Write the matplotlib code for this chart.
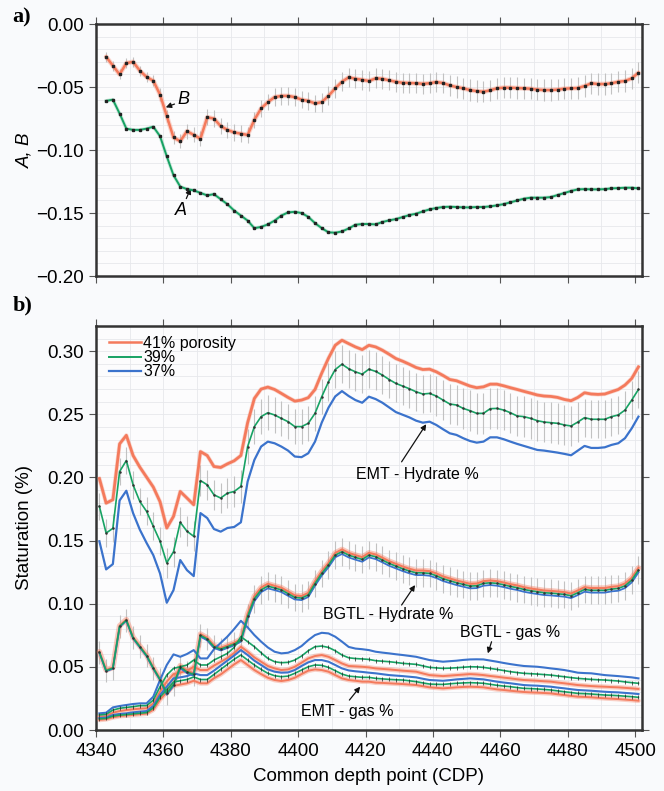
import numpy as np
import matplotlib.pyplot as plt
from matplotlib.ticker import MultipleLocator
from matplotlib.lines import Line2D

plt.rcParams['font.family'] = ['Liberation Sans', 'DejaVu Sans']

ORANGE = '#f47a5c'
GREEN = '#17a263'
BLUE = '#3b73cc'
BARS = '#c2c2c2'

# ---- panel a: A and B coefficients ----
cdp_top = np.arange(4343, 4502, 2)

coef_B = [-0.026, -0.033, -0.040, -0.031, -0.030, -0.037, -0.042, -0.045, -0.056, -0.073,
          -0.090, -0.093, -0.085, -0.088, -0.091, -0.074, -0.075, -0.081, -0.084, -0.086,
          -0.087, -0.088, -0.076, -0.067, -0.062, -0.058, -0.057, -0.057, -0.058, -0.060,
          -0.061, -0.063, -0.062, -0.057, -0.051, -0.0458, -0.0423, -0.0434, -0.0442, -0.0452,
          -0.0431, -0.0434, -0.0447, -0.0458, -0.0466, -0.0468, -0.047, -0.0474, -0.047, -0.046,
          -0.0468, -0.0487, -0.050, -0.051, -0.0524, -0.0532, -0.0537, -0.0526, -0.051, -0.0505,
          -0.0505, -0.0508, -0.051, -0.0513, -0.052, -0.0524, -0.0524, -0.052, -0.0513, -0.051,
          -0.0508, -0.0492, -0.047, -0.0476, -0.0476, -0.047, -0.0458, -0.0452, -0.0431, -0.0386]

coef_B_err = [0.004, 0.004, 0.004, 0.004, 0.004, 0.004, 0.004, 0.0045, 0.005, 0.005,
              0.0055, 0.0055, 0.006, 0.006, 0.006, 0.0065, 0.0065, 0.0065, 0.0065, 0.0065,
              0.0065, 0.0065, 0.0065, 0.0065, 0.0065, 0.007, 0.007, 0.007, 0.007, 0.007,
              0.007, 0.007, 0.0075, 0.0075, 0.0075, 0.0075, 0.0075, 0.0075, 0.008, 0.008,
              0.008, 0.008, 0.008, 0.008, 0.008, 0.008, 0.008, 0.008, 0.008, 0.008,
              0.008, 0.0085, 0.0085, 0.0085, 0.0085, 0.0085, 0.0085, 0.0085, 0.0085, 0.0085,
              0.0085, 0.0085, 0.0085, 0.0085, 0.0085, 0.0085, 0.0085, 0.0085, 0.0085, 0.0085,
              0.0085, 0.0085, 0.0085, 0.0085, 0.0085, 0.0085, 0.0085, 0.0085, 0.0085, 0.0085]

coef_A = [-0.061, -0.060, -0.071, -0.083, -0.084, -0.084, -0.083, -0.0815, -0.089, -0.105,
          -0.120, -0.129, -0.131, -0.132, -0.134, -0.136, -0.135, -0.139, -0.143, -0.148,
          -0.152, -0.156, -0.162, -0.161, -0.159, -0.156, -0.152, -0.1495, -0.149, -0.150,
          -0.153, -0.158, -0.162, -0.1653, -0.1656, -0.1646, -0.1622, -0.1593, -0.1587, -0.1587,
          -0.159, -0.1571, -0.1558, -0.1548, -0.1532, -0.1516, -0.1505, -0.1487, -0.1471, -0.146,
          -0.1452, -0.145, -0.1452, -0.1455, -0.1455, -0.1452, -0.1452, -0.1447, -0.1439, -0.1429,
          -0.1415, -0.140, -0.1386, -0.1378, -0.1378, -0.1378, -0.1373, -0.1357, -0.1341, -0.1325,
          -0.1312, -0.131, -0.1312, -0.1312, -0.131, -0.1304, -0.1302, -0.1299, -0.1299, -0.1304]

# ---- panel b: saturations ----
cdp = np.arange(4341, 4502, 2)

emt_hyd_41 = [0.1992, 0.1797, 0.1824, 0.2266, 0.2334, 0.2174, 0.2082, 0.2003, 0.1924, 0.1808,
              0.160, 0.1692, 0.1889, 0.1837, 0.1784, 0.2205, 0.2174, 0.2087, 0.2079, 0.2108,
              0.2132, 0.2174, 0.2434, 0.2626, 0.270, 0.2716, 0.2697, 0.2666, 0.2634, 0.2605,
              0.2613, 0.2632, 0.2697, 0.2827, 0.2945, 0.3047, 0.3087, 0.306, 0.3034, 0.3013,
              0.3047, 0.3034, 0.3008, 0.2976, 0.2942, 0.2921, 0.2897, 0.2871, 0.2855, 0.2858,
              0.2837, 0.2808, 0.2776, 0.2766, 0.2745, 0.2724, 0.2711, 0.2718, 0.2739, 0.2739,
              0.2726, 0.2711, 0.2697, 0.2682, 0.2668, 0.2653, 0.2645, 0.2642, 0.2634, 0.2618,
              0.2608, 0.2634, 0.2671, 0.2661, 0.2658, 0.2661, 0.2679, 0.2697, 0.2732, 0.2784,
              0.2876]

emt_hyd_39 = [0.1771, 0.156, 0.1597, 0.2047, 0.2134, 0.1942, 0.181, 0.1732, 0.1613, 0.1495,
              0.1324, 0.1412, 0.1645, 0.1574, 0.1534, 0.1976, 0.1942, 0.1863, 0.1837, 0.1876,
              0.1889, 0.1929, 0.2245, 0.2403, 0.2482, 0.2513, 0.2495, 0.2468, 0.2442, 0.2403,
              0.2403, 0.2429, 0.2508, 0.264, 0.2758, 0.2855, 0.2897, 0.2861, 0.2837, 0.2818,
              0.2858, 0.284, 0.2811, 0.2776, 0.2745, 0.2724, 0.2703, 0.2679, 0.2661, 0.2666,
              0.2645, 0.2613, 0.2582, 0.2574, 0.2547, 0.2529, 0.2508, 0.2508, 0.2545, 0.2547,
              0.2534, 0.2513, 0.2487, 0.2482, 0.2468, 0.245, 0.2439, 0.2434, 0.2429, 0.2416,
              0.2408, 0.2439, 0.2474, 0.2461, 0.2461, 0.2461, 0.2482, 0.2495, 0.2534, 0.2613,
              0.2697]

emt_hyd_39_err = [0.011, 0.011, 0.011, 0.011, 0.011, 0.011, 0.011, 0.011, 0.011, 0.011,
                  0.012, 0.012, 0.012, 0.012, 0.012, 0.012, 0.012, 0.012, 0.012, 0.012,
                  0.012, 0.013, 0.014, 0.014, 0.014, 0.014, 0.014, 0.014, 0.014, 0.014,
                  0.014, 0.014, 0.014, 0.014, 0.015, 0.015, 0.015, 0.015, 0.015, 0.015,
                  0.015, 0.015, 0.015, 0.015, 0.015, 0.015, 0.015, 0.015, 0.015, 0.015,
                  0.016, 0.016, 0.016, 0.016, 0.016, 0.016, 0.016, 0.016, 0.016, 0.016,
                  0.016, 0.016, 0.016, 0.016, 0.016, 0.016, 0.016, 0.016, 0.016, 0.016,
                  0.016, 0.016, 0.015, 0.015, 0.015, 0.015, 0.015, 0.015, 0.015, 0.015,
                  0.015]

emt_hyd_37 = [0.1495, 0.1272, 0.1314, 0.1818, 0.1895, 0.1718, 0.1587, 0.1482, 0.1385, 0.124,
              0.1008, 0.1108, 0.1346, 0.1266, 0.1219, 0.1718, 0.1679, 0.1592, 0.1571, 0.160,
              0.1608, 0.1645, 0.1968, 0.2139, 0.2245, 0.2284, 0.2271, 0.2245, 0.2213, 0.2166,
              0.2161, 0.2192, 0.2284, 0.2435, 0.2553, 0.2642, 0.2684, 0.2645, 0.2613, 0.2592,
              0.264, 0.2621, 0.2592, 0.2555, 0.2518, 0.2497, 0.2476, 0.245, 0.2434, 0.2442,
              0.2416, 0.2382, 0.235, 0.2337, 0.2311, 0.2289, 0.2276, 0.2284, 0.2318, 0.2318,
              0.2303, 0.2284, 0.2266, 0.225, 0.2234, 0.2218, 0.2213, 0.2205, 0.2197, 0.2187,
              0.2176, 0.2213, 0.225, 0.2234, 0.2234, 0.2239, 0.2258, 0.2271, 0.2311, 0.2389,
              0.2482]

bgtl_hyd_41 = [0.062, 0.0475, 0.0495, 0.0825, 0.0875, 0.0735, 0.0665, 0.0595, 0.0495, 0.0405,
               0.0295, 0.037, 0.051, 0.047, 0.045, 0.076, 0.073, 0.067, 0.065, 0.067,
               0.069, 0.072, 0.092, 0.106, 0.1128, 0.1158, 0.1142, 0.1127, 0.1097, 0.1066,
               0.1061, 0.1086, 0.1177, 0.1257, 0.1323, 0.1402, 0.143, 0.1403, 0.1385, 0.1369,
               0.1403, 0.139, 0.1364, 0.1337, 0.1316, 0.1295, 0.1277, 0.1263, 0.1263, 0.1258,
               0.124, 0.1216, 0.12, 0.1184, 0.1171, 0.1158, 0.116, 0.1179, 0.1184, 0.1179,
               0.1168, 0.1155, 0.1145, 0.1131, 0.1121, 0.1113, 0.1105, 0.1102, 0.1097, 0.1092,
               0.1081, 0.1105, 0.1131, 0.1124, 0.1124, 0.1124, 0.1134, 0.1139, 0.116, 0.1205,
               0.1284]

bgtl_hyd_39 = [0.0615, 0.047, 0.049, 0.082, 0.087, 0.073, 0.066, 0.059, 0.049, 0.040,
               0.029, 0.036, 0.050, 0.046, 0.044, 0.075, 0.072, 0.066, 0.064, 0.066,
               0.068, 0.071, 0.090, 0.104, 0.111, 0.114, 0.1125, 0.111, 0.108, 0.105,
               0.1045, 0.107, 0.116, 0.124, 0.1306, 0.1385, 0.1412, 0.1385, 0.1367, 0.1351,
               0.1385, 0.1372, 0.1346, 0.1319, 0.1298, 0.1277, 0.1259, 0.1245, 0.1245, 0.124,
               0.1222, 0.1198, 0.1182, 0.1166, 0.1153, 0.114, 0.1142, 0.1161, 0.1166, 0.1161,
               0.115, 0.1137, 0.1127, 0.1113, 0.1103, 0.1095, 0.1087, 0.1084, 0.1079, 0.1074,
               0.1063, 0.1087, 0.1113, 0.1106, 0.1106, 0.1106, 0.1116, 0.1121, 0.1142, 0.1187,
               0.1266]

bgtl_hyd_39_err = [0.009, 0.009, 0.009, 0.009, 0.009, 0.009, 0.009, 0.009, 0.009, 0.009,
                   0.009, 0.009, 0.009, 0.009, 0.009, 0.009, 0.009, 0.009, 0.009, 0.009,
                   0.010, 0.010, 0.010, 0.011, 0.011, 0.011, 0.011, 0.011, 0.011, 0.011,
                   0.011, 0.011, 0.011, 0.011, 0.011, 0.011, 0.011, 0.011, 0.011, 0.011,
                   0.011, 0.011, 0.011, 0.011, 0.011, 0.011, 0.011, 0.011, 0.011, 0.011,
                   0.011, 0.011, 0.011, 0.011, 0.011, 0.011, 0.011, 0.011, 0.011, 0.011,
                   0.011, 0.011, 0.011, 0.011, 0.011, 0.011, 0.011, 0.011, 0.011, 0.011,
                   0.011, 0.011, 0.011, 0.011, 0.011, 0.011, 0.011, 0.011, 0.011, 0.011,
                   0.011]

bgtl_hyd_37 = [0.061, 0.0465, 0.0485, 0.0815, 0.0865, 0.0725, 0.0655, 0.0585, 0.0485, 0.0395,
               0.028, 0.035, 0.049, 0.045, 0.043, 0.074, 0.071, 0.065, 0.063, 0.065,
               0.067, 0.070, 0.088, 0.102, 0.1092, 0.1122, 0.1108, 0.1093, 0.1063, 0.1034,
               0.1029, 0.1054, 0.1143, 0.1223, 0.1289, 0.1368, 0.1394, 0.1367, 0.1349, 0.1333,
               0.1367, 0.1354, 0.1328, 0.1301, 0.128, 0.1259, 0.1241, 0.1227, 0.1227, 0.1222,
               0.1204, 0.118, 0.1164, 0.1148, 0.1135, 0.1122, 0.1124, 0.1143, 0.1148, 0.1143,
               0.1132, 0.1119, 0.1109, 0.1095, 0.1085, 0.1077, 0.1069, 0.1066, 0.1061, 0.1056,
               0.1045, 0.1069, 0.1095, 0.1088, 0.1088, 0.1088, 0.1098, 0.1103, 0.1124, 0.1169,
               0.1248]

bgtl_gas_37 = [0.0132, 0.0137, 0.0179, 0.019, 0.0198, 0.0206, 0.0211, 0.0211, 0.0264, 0.0396,
               0.0515, 0.0599, 0.058, 0.0602, 0.0633, 0.0567, 0.0567, 0.0639, 0.069, 0.074,
               0.080, 0.0865, 0.0813, 0.0752, 0.070, 0.0654, 0.062, 0.0607, 0.0612, 0.0633,
               0.0665, 0.0712, 0.0752, 0.077, 0.0765, 0.0739, 0.070, 0.0658, 0.0645, 0.064,
               0.0633, 0.062, 0.0613, 0.0607, 0.060, 0.0594, 0.0587, 0.058, 0.0567, 0.0554,
               0.0547, 0.0541, 0.0545, 0.0549, 0.0555, 0.0559, 0.056, 0.0559, 0.055, 0.0541,
               0.0531, 0.0522, 0.0514, 0.0507, 0.0504, 0.0501, 0.0495, 0.0488, 0.0482, 0.0475,
               0.0465, 0.0454, 0.0451, 0.0449, 0.0442, 0.0435, 0.0431, 0.0427, 0.0422, 0.0417,
               0.0409]

bgtl_gas_39 = [0.0119, 0.0124, 0.0158, 0.0172, 0.0179, 0.0185, 0.0193, 0.0193, 0.0237, 0.0343,
               0.0435, 0.0488, 0.0501, 0.0515, 0.0554, 0.0515, 0.0515, 0.0554, 0.058, 0.0607,
               0.0654, 0.0739, 0.070, 0.066, 0.0612, 0.0567, 0.0541, 0.0533, 0.0536, 0.0554,
               0.0586, 0.0628, 0.066, 0.0665, 0.0654, 0.0628, 0.0594, 0.0572, 0.0566, 0.0563,
               0.0559, 0.0549, 0.0545, 0.0541, 0.0535, 0.0528, 0.0524, 0.052, 0.0508, 0.0496,
               0.0492, 0.0488, 0.049, 0.0493, 0.0497, 0.0501, 0.050, 0.0496, 0.0488, 0.048,
               0.0471, 0.0462, 0.0455, 0.0449, 0.0446, 0.0443, 0.0439, 0.0435, 0.0428, 0.0422,
               0.0415, 0.0409, 0.0405, 0.0401, 0.0398, 0.0396, 0.0392, 0.0388, 0.0381, 0.0375,
               0.037]

bgtl_gas_41 = [0.0106, 0.011, 0.0137, 0.015, 0.0158, 0.0164, 0.0169, 0.0172, 0.0211, 0.0303,
               0.0383, 0.0443, 0.0454, 0.047, 0.0501, 0.0475, 0.0475, 0.051, 0.054, 0.057,
               0.061, 0.066, 0.062, 0.0575, 0.0541, 0.0507, 0.0488, 0.0475, 0.048, 0.0501,
               0.0533, 0.0567, 0.0586, 0.0594, 0.058, 0.0554, 0.0527, 0.0507, 0.0504, 0.0501,
               0.0496, 0.0488, 0.0484, 0.048, 0.0475, 0.047, 0.0466, 0.0462, 0.0448, 0.0435,
               0.0431, 0.0427, 0.0431, 0.0435, 0.0439, 0.0443, 0.044, 0.0435, 0.0428, 0.0422,
               0.0415, 0.0409, 0.0402, 0.0396, 0.0393, 0.039, 0.0386, 0.0383, 0.0376, 0.037,
               0.0363, 0.0356, 0.0352, 0.0348, 0.0345, 0.0343, 0.034, 0.0338, 0.0334, 0.033,
               0.0325]

emt_gas_37 = [0.0095, 0.0098, 0.0119, 0.0127, 0.0132, 0.014, 0.0145, 0.015, 0.019, 0.0277,
              0.0343, 0.0409, 0.0417, 0.0427, 0.0449, 0.0435, 0.0435, 0.047, 0.051, 0.055,
              0.059, 0.0633, 0.0594, 0.0549, 0.0515, 0.048, 0.0462, 0.0454, 0.0456, 0.0475,
              0.0507, 0.0536, 0.0554, 0.0554, 0.0541, 0.0515, 0.0488, 0.0472, 0.0465, 0.046,
              0.0454, 0.0449, 0.0442, 0.0435, 0.0431, 0.0427, 0.0422, 0.0417, 0.0406, 0.0396,
              0.0393, 0.039, 0.0395, 0.0401, 0.0405, 0.0409, 0.0405, 0.0401, 0.0392, 0.0383,
              0.0376, 0.037, 0.0363, 0.0356, 0.0353, 0.0351, 0.0347, 0.0343, 0.0336, 0.033,
              0.0323, 0.0317, 0.0314, 0.0311, 0.0307, 0.0303, 0.030, 0.0298, 0.0294, 0.029,
              0.0285]

emt_gas_39 = [0.0088, 0.0092, 0.011, 0.0118, 0.0122, 0.0128, 0.0133, 0.0138, 0.0175, 0.026,
              0.032, 0.038, 0.039, 0.040, 0.042, 0.040, 0.040, 0.044, 0.048, 0.052,
              0.056, 0.0594, 0.0554, 0.0515, 0.048, 0.0449, 0.043, 0.0422, 0.0427, 0.0449,
              0.0475, 0.0501, 0.0515, 0.0512, 0.0496, 0.047, 0.0443, 0.0427, 0.0422, 0.0417,
              0.0417, 0.0409, 0.0405, 0.0401, 0.0398, 0.0396, 0.039, 0.0383, 0.0373, 0.0364,
              0.0362, 0.0361, 0.0366, 0.037, 0.0373, 0.0375, 0.0373, 0.037, 0.0362, 0.0354,
              0.0348, 0.0343, 0.0336, 0.033, 0.0328, 0.0325, 0.0321, 0.0317, 0.031, 0.0303,
              0.0297, 0.029, 0.0288, 0.0285, 0.0281, 0.0277, 0.0275, 0.0272, 0.0268, 0.0264,
              0.0259]

emt_gas_41 = [0.008, 0.0085, 0.010, 0.011, 0.0115, 0.012, 0.0125, 0.013, 0.016, 0.024,
              0.030, 0.035, 0.036, 0.037, 0.039, 0.037, 0.037, 0.041, 0.044, 0.048,
              0.052, 0.0554, 0.0515, 0.0475, 0.0443, 0.0414, 0.0396, 0.0388, 0.0396, 0.0414,
              0.0443, 0.047, 0.048, 0.0475, 0.0462, 0.0435, 0.0409, 0.0396, 0.039, 0.0383,
              0.0383, 0.0375, 0.0373, 0.037, 0.0367, 0.0364, 0.036, 0.0356, 0.0347, 0.0338,
              0.0334, 0.033, 0.0334, 0.0338, 0.0341, 0.0343, 0.0341, 0.0338, 0.033, 0.0322,
              0.0317, 0.0311, 0.0306, 0.0301, 0.0298, 0.0296, 0.0293, 0.029, 0.0283, 0.0277,
              0.027, 0.0264, 0.0262, 0.0259, 0.0255, 0.0251, 0.0248, 0.0245, 0.0241, 0.0237,
              0.0232]


def style_axes(ax):
    ax.set_facecolor('#fcfcfd')
    ax.set_xlim(4340, 4502)
    ax.xaxis.set_major_locator(MultipleLocator(20))
    ax.xaxis.set_minor_locator(MultipleLocator(10))
    ax.yaxis.set_major_locator(MultipleLocator(0.05))
    ax.yaxis.set_minor_locator(MultipleLocator(0.01))
    ax.grid(which='both', color='#e7e8ec', lw=0.6)
    ax.set_axisbelow(True)
    ax.tick_params(which='major', direction='out', length=5, width=0.8, color='#555555',
                   top=True, right=True, labelsize=13.5, pad=4)
    ax.tick_params(which='minor', length=0)
    for s in ax.spines.values():
        s.set_linewidth(1.8)
        s.set_color('#333333')


def orange_line(ax, x, y, lw=1.6, halo=4.0, alpha=0.35):
    ax.plot(x, y, color=ORANGE, lw=halo, alpha=alpha, solid_capstyle='round', zorder=3)
    ax.plot(x, y, color=ORANGE, lw=lw, zorder=3.1)


fig = plt.figure(figsize=(6.64, 7.91), dpi=100, facecolor='#f9fafc')
ax1 = fig.add_axes([0.1446, 0.651, 0.822, 0.3186])
ax2 = fig.add_axes([0.1446, 0.0771, 0.822, 0.5108])

# ---- panel a ----
style_axes(ax1)
ax1.set_ylim(-0.20, 0.0)
ax1.tick_params(labelbottom=False)
ax1.errorbar(cdp_top, coef_B, yerr=coef_B_err, fmt='none', ecolor=BARS, elinewidth=0.8, zorder=2)
orange_line(ax1, cdp_top, coef_B, lw=1.8, halo=3.4, alpha=0.3)
ax1.plot(cdp_top, coef_A, color=GREEN, lw=2.6, alpha=0.2, zorder=3)
ax1.plot(cdp_top, coef_A, color=GREEN, lw=1.4, zorder=3.1)
ax1.plot(cdp_top, coef_B, 's', ms=1.6, color='#222222', zorder=4)
ax1.plot(cdp_top, coef_A, 's', ms=1.6, color='#222222', zorder=4)
ax1.set_ylabel('A, B', fontsize=13.5, style='italic')
ax1.yaxis.set_label_coords(-0.115, 0.5)

arrow = dict(arrowstyle='-|>', color='#111111', lw=0.9, mutation_scale=8, shrinkA=0, shrinkB=0)
ax1.text(4365.8, -0.0595, 'B', fontsize=13, style='italic', ha='center', va='center')
ax1.annotate('', xy=(4360.7, -0.0661), xytext=(4363.3, -0.0635), arrowprops=arrow)
ax1.text(4365.2, -0.1476, 'A', fontsize=13, style='italic', ha='center', va='center')
ax1.annotate('', xy=(4368.1, -0.1304), xytext=(4366.8, -0.1385), arrowprops=arrow)

# ---- panel b ----
style_axes(ax2)
ax2.set_ylim(0, 0.32)

# EMT hydrate
ax2.errorbar(cdp, emt_hyd_39, yerr=emt_hyd_39_err, fmt='none', ecolor=BARS, elinewidth=0.8, zorder=2)
orange_line(ax2, cdp, emt_hyd_41, lw=2.0, halo=3.0, alpha=0.3)
ax2.plot(cdp, emt_hyd_39, color=GREEN, lw=1.2, zorder=3.2)
ax2.plot(cdp, emt_hyd_39, '.', ms=1.6, color='#333333', zorder=3.3)
ax2.plot(cdp, emt_hyd_37, color=BLUE, lw=1.6, zorder=3.2)

# BGTL hydrate
ax2.errorbar(cdp, bgtl_hyd_39, yerr=bgtl_hyd_39_err, fmt='none', ecolor=BARS, elinewidth=0.8, zorder=2)
orange_line(ax2, cdp, bgtl_hyd_41, lw=1.5, halo=4.0, alpha=0.4)
ax2.plot(cdp, bgtl_hyd_37, color=BLUE, lw=1.3, zorder=3.2)
ax2.plot(cdp, bgtl_hyd_39, color=GREEN, lw=1.2, zorder=3.3)
ax2.plot(cdp, bgtl_hyd_39, '.', ms=1.6, color='#333333', zorder=3.4)

# gas saturations
for g41, g39, g37 in [(bgtl_gas_41, bgtl_gas_39, bgtl_gas_37), (emt_gas_41, emt_gas_39, emt_gas_37)]:
    orange_line(ax2, cdp, g41, lw=1.4, halo=3.4, alpha=0.35)
    ax2.plot(cdp, g37, color=BLUE, lw=1.5, zorder=3.2)
    ax2.plot(cdp, g39, color=GREEN, lw=1.2, zorder=3.3)
    ax2.plot(cdp, g39, '|', ms=2.6, mew=0.5, color='#222222', zorder=3.4)

ax2.set_xlabel('Common depth point (CDP)', fontsize=13.5, labelpad=6)
ax2.set_ylabel('Staturation (%)', fontsize=13.5)
ax2.yaxis.set_label_coords(-0.115, 0.5)

handles = [Line2D([], [], color=ORANGE, lw=1.8),
           Line2D([], [], color=GREEN, lw=1.4),
           Line2D([], [], color=BLUE, lw=1.6)]
ax2.legend(handles, ['41% porosity', '39%', '37%'], loc='upper left',
           bbox_to_anchor=(0.024, 0.975), frameon=False, fontsize=11.5,
           handlelength=2.0, handletextpad=0.15, labelspacing=-0.05,
           borderpad=0, borderaxespad=0)

ax2.text(4435.3, 0.2026, 'EMT - Hydrate %', fontsize=11.5, ha='center', va='center')
ax2.annotate('', xy=(4438.0, 0.2422), xytext=(4430.7, 0.2124), arrowprops=arrow)
ax2.text(4426.8, 0.0918, 'BGTL - Hydrate %', fontsize=11.5, ha='center', va='center')
ax2.annotate('', xy=(4434.7, 0.1148), xytext=(4430.7, 0.0990), arrowprops=arrow)
ax2.text(4462.9, 0.0770, 'BGTL - gas %', fontsize=11.5, ha='center', va='center')
ax2.annotate('', xy=(4456.3, 0.0607), xytext=(4457.4, 0.0699), arrowprops=arrow)
ax2.text(4414.5, 0.0145, 'EMT - gas %', fontsize=11.5, ha='center', va='center')
ax2.annotate('', xy=(4418.4, 0.0343), xytext=(4415.2, 0.0237), arrowprops=arrow)

fig.text(0.019, 0.978, 'a)', family='Liberation Serif', weight='bold', fontsize=16, va='center')
fig.text(0.019, 0.614, 'b)', family='Liberation Serif', weight='bold', fontsize=16, va='center')

fig.savefig('out.png', dpi=100, facecolor=fig.get_facecolor())
